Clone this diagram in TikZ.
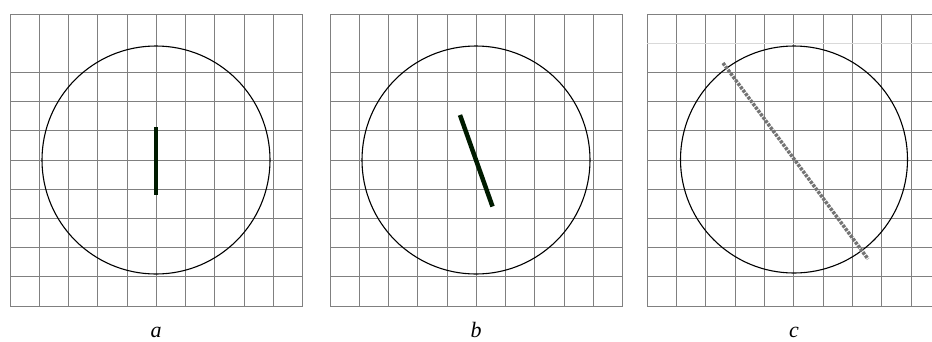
\documentclass[tikz,border=0pt]{standalone}
\usepackage{fontspec}
\setmainfont{Liberation Serif}
\begin{document}
\begin{tikzpicture}[x=1pt,y=-1pt,
  gridline/.style={draw=black!50,line width=0.9pt},
  faintline/.style={draw=black!15,line width=0.8pt},
  ring/.style={draw=black,line width=1.1pt},
  rod/.style={draw=black!85!green!70!black,line width=4.5pt},
  beadrod/.style={draw=black!55,line width=3.5pt,dash pattern=on 3pt off 1.2pt},
  paneltag/.style={font=\fontsize{22}{24}\selectfont\itshape,inner sep=0pt,anchor=base}
]
\useasboundingbox[fill=white] (0,0) rectangle (932,341);
% panel a
\foreach \i in {0,...,10} \draw[gridline] ({10+29.27*\i},14) -- ({10+29.27*\i},306);
\foreach \j in {0,2,3,4,5,6,7,8,9,10} \draw[gridline] (10,{14+29.2*\j}) -- (302.7,{14+29.2*\j});
\draw[ring] (156,160) circle (114);
\draw[rod] (156,127) -- (156,195);
\node[paneltag] (la) at (156,337.5) {a};
% panel b
\foreach \i in {0,...,10} \draw[gridline] ({330+29.27*\i},14) -- ({330+29.27*\i},306);
\foreach \j in {0,2,3,4,5,6,7,8,9,10} \draw[gridline] (330,{14+29.2*\j}) -- (622.7,{14+29.2*\j});
\draw[ring] (476,160) circle (114);
\draw[rod] (460,115) -- (492.5,206.5);
\node[paneltag] (lb) at (476,337.5) {b};
% panel c
\foreach \i in {0,...,9} \draw[gridline] ({647+29.35*\i},14) -- ({647+29.35*\i},306);
\foreach \j in {0,2,3,4,5,6,7,8,9,10} \draw[gridline] (647,{14+29.2*\j}) -- (932,{14+29.2*\j});
\draw[faintline] (647,43.2) -- (932,43.2);
\draw[ring] (794,159.5) circle (113.5);
\draw[beadrod] (723,63) -- (868,259);
\node[paneltag] (lc) at (794,337.5) {c};
\end{tikzpicture}
\end{document}
